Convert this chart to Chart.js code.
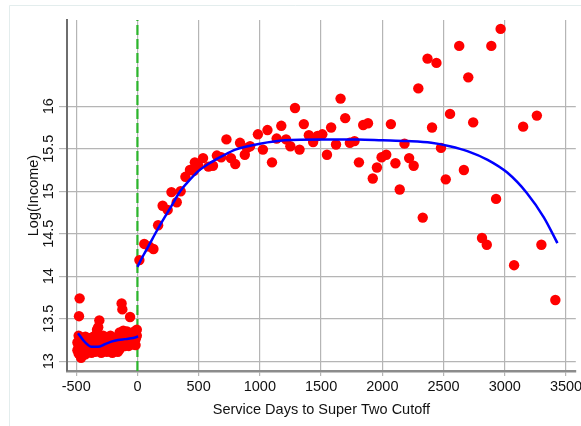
<!DOCTYPE html>
<html><head><meta charset="utf-8">
<script src="https://cdn.jsdelivr.net/npm/chart.js@4"></script>
<style>html,body{margin:0;padding:0;background:#fff;} canvas{display:block;}</style>
</head><body>
<canvas id="c" width="581" height="426"></canvas>
<script>
// ---- data ----
const xTickValues = [-500, 0, 500, 1000, 1500, 2000, 2500, 3000, 3500];
const yTickValues = [13, 13.5, 14, 14.5, 15, 15.5, 16];
const xTitle = 'Service Days to Super Two Cutoff';
const yTitle = 'Log(Income)';
const cutoffDay = 0;

const preDays = [-472,-477,-460,-311,-129,-123,-60,-5,
 -490,-490,-480,-480,-480,-470,-470,-460,-460,-450,-450,-440,-440,-440,-425,-425,-425,
 -410,-410,-400,-400,-390,-390,-375,-375,-360,-360,-360,-345,-345,-330,-330,-330,
 -320,-320,-320,-310,-310,-310,-295,-295,-280,-280,-280,-265,-265,-250,-250,-250,
 -235,-235,-220,-220,-205,-205,-190,-190,-175,-175,-160,-160,-145,-145,-145,-130,-130,
 -115,-115,-100,-100,-100,-85,-85,-70,-70,-55,-55,-40,-40,-25,-25,-15,-15,-5];
const preIncome = [13.74,13.53,13.04,13.48,13.68,13.61,13.52,13.37,
 13.13,13.22,13.30,13.18,13.09,13.25,13.12,13.20,13.28,13.15,13.10,13.27,13.20,13.12,13.18,13.08,13.29,
 13.24,13.13,13.11,13.19,13.27,13.15,13.10,13.22,13.29,13.13,13.18,13.24,13.11,13.33,13.17,13.37,
 13.28,13.12,13.40,13.20,13.14,13.31,13.10,13.25,13.18,13.30,13.12,13.22,13.14,13.28,13.11,13.19,
 13.24,13.13,13.16,13.30,13.10,13.22,13.27,13.15,13.12,13.20,13.11,13.25,13.34,13.18,13.14,13.27,13.20,
 13.36,13.22,13.24,13.30,13.18,13.21,13.35,13.27,13.18,13.23,13.32,13.20,13.28,13.35,13.21,13.26,13.19,13.30];

const postDays = [16,56,96,131,169,206,247,278,321,353,392,429,461,469,497,536,580,617,649,684,
 727,764,799,838,877,895,920,984,1025,1062,1099,1137,1175,1214,1249,1287,1324,1359,1400,1435,
 1471,1510,1548,1582,1622,1659,1697,1735,1773,1809,1844,1883,1922,1956,1994,2032,2070,2107,2142,2181,
 2219,2256,2294,2330,2369,2406,2442,2479,2518,2553,2628,2666,2702,2742,2814,2853,2890,2929,2966,3076,
 3150,3262,3299,3413];
const postIncome = [14.19,14.38,14.35,14.32,14.60,14.83,14.78,14.99,14.87,15.00,15.17,15.25,15.24,15.34,15.30,15.39,15.29,15.30,15.42,15.40,
 15.61,15.39,15.32,15.57,15.43,15.51,15.53,15.67,15.49,15.72,15.34,15.62,15.77,15.61,15.53,15.98,15.49,15.79,15.66,15.58,
 15.65,15.67,15.43,15.75,15.55,16.09,15.86,15.57,15.59,15.34,15.78,15.80,15.15,15.28,15.40,15.43,15.79,15.33,15.02,15.56,
 15.39,15.30,16.21,14.69,16.56,15.75,16.51,15.51,15.14,15.91,16.71,15.25,16.34,15.81,14.45,14.37,16.71,14.91,16.91,14.13,
 15.76,15.89,14.37,13.72];

const fitPreDays = [-485,-444,-403,-376,-321,-267,-213,-158,-103,-49,6];
const fitPreIncome = [13.33,13.25,13.19,13.17,13.17,13.20,13.23,13.25,13.26,13.27,13.29];
const fitPostDays = [0,50,100,145,200,275,349,425,500,600,700,800,900,1000,1200,1500,1800,2000,2200,2400,2550,2700,2860,3020,3180,3320,3430];
const fitPostIncome = [14.11,14.25,14.38,14.50,14.64,14.82,15.00,15.13,15.24,15.34,15.42,15.49,15.53,15.56,15.60,15.61,15.61,15.60,15.59,15.57,15.53,15.47,15.37,15.22,14.98,14.69,14.39];

const xMin = -575, xMax = 3580, yMin = 12.885, yMax = 17.015;

const pts = (xs, ys) => xs.map((x, i) => ({x, y: ys[i]}));
const FONT = {family: "'Liberation Sans', Arial, sans-serif", size: 14.5};

const framePlugin = {
  id: 'frame',
  beforeDraw(chart) {
    const c = chart.ctx;
    c.save();
    c.fillStyle = '#ffffff';
    c.fillRect(0, 0, chart.width, chart.height);
    c.strokeStyle = '#e3eded';
    c.lineWidth = 1;
    c.beginPath();
    c.moveTo(9.5, chart.height);
    c.lineTo(9.5, 5.5);
    c.lineTo(chart.width, 5.5);
    c.stroke();
    c.restore();
  }
};

new Chart(document.getElementById('c'), {
  type: 'scatter',
  data: {
    datasets: [
      {data: pts(fitPreDays, fitPreIncome), showLine: true, borderColor: '#0000ff', borderWidth: 2.5,
       pointRadius: 0, cubicInterpolationMode: 'monotone', order: 0},
      {data: pts(fitPostDays, fitPostIncome), showLine: true, borderColor: '#0000ff', borderWidth: 2.5,
       pointRadius: 0, cubicInterpolationMode: 'monotone', order: 0},
      {data: pts(preDays, preIncome), backgroundColor: '#ff0000', borderWidth: 0, pointRadius: 5.2, order: 1},
      {data: pts(postDays, postIncome), backgroundColor: '#ff0000', borderWidth: 0, pointRadius: 5.2, order: 1},
      {data: [{x: cutoffDay, y: yMin}, {x: cutoffDay, y: yMax}], showLine: true, borderColor: '#2bb52b',
       borderWidth: 2.2, borderDash: [10, 4], pointRadius: 0, order: 2}
    ]
  },
  options: {
    responsive: false, animation: false, devicePixelRatio: 1,
    layout: {padding: {top: 20, right: 5, left: 0, bottom: 0}},
    plugins: {legend: {display: false}, tooltip: {enabled: false}},
    scales: {
      x: {
        type: 'linear', min: xMin, max: xMax,
        afterBuildTicks: s => { s.ticks = xTickValues.map(v => ({value: v})); },
        afterFit: s => { s.height = 55; s.paddingLeft = 0; s.paddingRight = 0; },
        ticks: {autoSkip: false, maxRotation: 0, minRotation: 0, padding: 2, color: '#111', font: FONT,
                callback: v => String(v)},
        grid: {color: '#b5b5b5', lineWidth: 1.2, tickLength: 5},
        border: {display: true, color: '#8c8c8c', width: 2.5},
        title: {display: true, text: xTitle, color: '#111', font: FONT, padding: {top: 0, bottom: 7}}
      },
      y: {
        type: 'linear', min: yMin, max: yMax,
        afterBuildTicks: s => { s.ticks = yTickValues.map(v => ({value: v})); },
        afterFit: s => { s.width = 67; s.paddingTop = 0; s.paddingBottom = 0; },
        ticks: {minRotation: 90, maxRotation: 90, crossAlign: 'center', padding: -4, color: '#111', font: FONT,
                callback: v => String(v)},
        grid: {color: '#b5b5b5', lineWidth: 1.2, tickLength: 8},
        border: {display: true, color: '#6e6e6e', width: 2},
        title: {display: true, text: yTitle, color: '#111', font: FONT, padding: {top: 25, bottom: 0}}
      }
    }
  },
  plugins: [framePlugin]
});
</script>
</body></html>
